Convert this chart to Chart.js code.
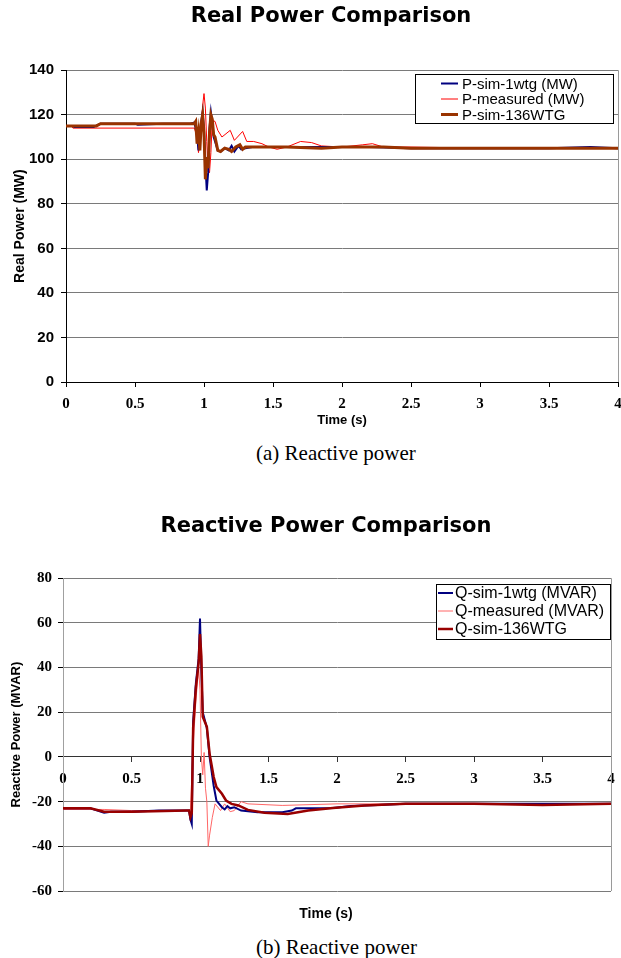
<!DOCTYPE html>
<html>
<head>
<meta charset="utf-8">
<script src="https://cdn.jsdelivr.net/npm/chart.js@4.4.1/dist/chart.umd.min.js"></script>
<style>
html, body { margin:0; padding:0; background:#fff; overflow:hidden; }
#page { position:relative; width:621px; height:958px; overflow:hidden; }
.holder { position:absolute; left:0; }
.caption { position:absolute; left:256px; font-family:"Liberation Serif", "Times New Roman", serif; font-size:21px; line-height:24px; color:#000; white-space:nowrap; }
</style>
</head>
<body>
<div id="page">
  <div class="holder" style="top:0;width:658px;height:432px;"><canvas id="realChart"></canvas></div>
  <div class="caption" style="top:441px;">(a) Reactive power</div>
  <div class="holder" style="top:490px;width:650px;height:440px;"><canvas id="reactChart"></canvas></div>
  <div class="caption" style="top:935px;">(b) Reactive power</div>
</div>
<script>
// ---- Real power (MW) ----
var pSim1Time = [0, 0.05, 0.06, 0.2, 0.25, 0.5, 0.52, 0.7, 0.9, 0.93, 0.95, 0.96, 0.97, 0.98, 0.99, 1.0, 1.01, 1.02, 1.03, 1.04, 1.05, 1.06, 1.07, 1.08, 1.1, 1.12, 1.15, 1.18, 1.2, 1.22, 1.25, 1.27, 1.3, 1.35, 1.5, 1.8, 2.0, 2.2, 2.5, 3, 3.5, 3.8, 4];
var pSim1Vals = [115, 115, 114.5, 114.5, 116, 116, 115.5, 116, 116, 116.5, 111, 104, 110, 117, 121, 113, 98, 86, 94, 114, 121, 116, 110, 108, 104, 103.5, 105, 104, 106, 103.5, 106, 104.5, 105, 105.5, 105.5, 105.5, 105.5, 105.5, 105, 105, 105, 105.5, 105];

var pMeasTime = [0, 0.04, 0.05, 0.5, 0.93, 0.95, 0.96, 0.97, 0.98, 0.99, 1.0, 1.01, 1.02, 1.03, 1.04, 1.05, 1.06, 1.08, 1.1, 1.13, 1.19, 1.22, 1.28, 1.31, 1.36, 1.42, 1.47, 1.53, 1.6, 1.7, 1.78, 1.85, 2.0, 2.15, 2.22, 2.3, 2.5, 3, 4];
var pMeasVals = [115, 115, 114, 114, 114, 110, 103, 108, 115, 124, 129.5, 123, 108, 95, 94, 103, 117.5, 117, 113, 110, 113, 108.5, 112.5, 108, 108, 107, 105.5, 104.5, 105.5, 108, 107.5, 106, 105.5, 106.5, 107, 105.5, 105.5, 105, 105];

var pSim136Time = [0, 0.22, 0.25, 0.5, 0.9, 0.93, 0.94, 0.95, 0.96, 0.97, 0.98, 0.99, 1.0, 1.01, 1.02, 1.03, 1.04, 1.05, 1.06, 1.07, 1.08, 1.1, 1.12, 1.15, 1.18, 1.2, 1.23, 1.26, 1.28, 1.3, 1.4, 1.6, 1.85, 2.0, 2.3, 2.5, 3, 3.5, 4];
var pSim136Vals = [115, 115, 116, 116, 116, 116, 117, 107, 112, 104, 116, 120, 112, 91, 101, 96, 112, 120, 118, 111, 110, 104, 103.5, 105, 104.5, 103.5, 105.5, 106.5, 104.5, 105.5, 105.5, 105.5, 105, 105.5, 105.5, 105, 105, 105, 105];

// ---- Reactive power (MVAR) ----
var qSim1Time = [0, 0.2, 0.3, 0.35, 0.5, 0.7, 0.9, 0.92, 0.93, 0.94, 0.95, 0.97, 0.99, 1.0, 1.01, 1.02, 1.05, 1.07, 1.1, 1.12, 1.16, 1.18, 1.2, 1.22, 1.25, 1.3, 1.42, 1.6, 1.67, 1.7, 1.85, 1.97, 2.1, 2.3, 2.5, 3, 3.5, 4];
var qSim1Vals = [-23, -23, -25, -24.5, -24.5, -24, -24, -24, -28, -30, 16, 33, 44, 62, 39, 20, 13, 0, -13, -19.5, -22.5, -23.5, -22, -23, -22.5, -24, -24.7, -24.7, -24, -23, -23, -22.8, -22, -21.5, -21, -21, -21, -21];

var qMeasTime = [0, 0.2, 0.3, 0.5, 0.9, 0.93, 0.95, 0.97, 0.99, 1.0, 1.01, 1.02, 1.03, 1.04, 1.05, 1.06, 1.07, 1.09, 1.11, 1.15, 1.18, 1.22, 1.25, 1.3, 1.35, 1.6, 2.0, 2.5, 3, 4];
var qMeasVals = [-23.5, -23.5, -23.5, -24, -24, -24, 5, 25, 40, 30, 0, -8, 2, -14, -20, -40, -35, -27, -21, -24, -21, -24.5, -24, -20, -21, -21.7, -21, -21, -21, -21];

var qSim136Time = [0, 0.2, 0.3, 0.5, 0.9, 0.92, 0.93, 0.94, 0.95, 0.97, 0.99, 1.0, 1.01, 1.02, 1.05, 1.07, 1.1, 1.12, 1.16, 1.19, 1.23, 1.28, 1.35, 1.47, 1.64, 1.79, 1.97, 2.2, 2.5, 3, 3.5, 4];
var qSim136Vals = [-23, -23, -24.5, -24.5, -24, -24, -27, -25, 13, 31, 42, 55, 45, 18, 13.5, 1.5, -9, -13.5, -16.5, -19.5, -21, -21.7, -23.7, -25, -25.5, -24, -22.8, -21.7, -21, -21, -21.5, -21];

var seriesNamesP = ['P-sim-1wtg (MW)', 'P-measured (MW)', 'P-sim-136WTG'];
var seriesNamesQ = ['Q-sim-1wtg (MVAR)', 'Q-measured (MVAR)', 'Q-sim-136WTG'];

var SANS = '"Liberation Sans", Arial, sans-serif';
var SERIF = '"Liberation Serif", "Times New Roman", serif';

Chart.defaults.color = '#000';
Chart.defaults.font.family = SANS;

function pts(t, v){
    return t.map(function(x, i){ return { x: x, y: v[i] }; });
}

function line(label, t, v, color, width, order){
    return { label: label, data: pts(t, v), borderColor: color, backgroundColor: color,
             borderWidth: width, pointRadius: 0, tension: 0, fill: false, order: order };
}

function plainTick(v){ return String(v); }

// empty axis on the right, only to keep the title centred like the original
function spacer(w){
    return { type: 'linear', position: 'right', display: true,
             ticks: { display: false }, grid: { display: false }, border: { display: false },
             afterFit: function(s){ s.width = w; } };
}

// legend in a black box + grey right frame line of the plot
function boxLegend(cfg){
    return {
        id: 'boxLegend',
        afterDraw: function(chart){
            var ctx = chart.ctx, a = chart.chartArea;
            ctx.save();
            ctx.strokeStyle = '#9a9a9a';
            ctx.lineWidth = 1;
            ctx.beginPath();
            ctx.moveTo(Math.round(a.right) + 0.5, a.top);
            ctx.lineTo(Math.round(a.right) + 0.5, a.bottom);
            ctx.stroke();

            ctx.fillStyle = '#fff';
            ctx.fillRect(cfg.x, cfg.y, cfg.w, cfg.h);
            ctx.strokeStyle = '#000';
            ctx.strokeRect(cfg.x + 0.5, cfg.y + 0.5, cfg.w, cfg.h);
            ctx.font = cfg.font;
            ctx.textBaseline = 'middle';
            chart.data.datasets.forEach(function(ds, i){
                var yy = cfg.y + cfg.first + i * cfg.row;
                ctx.strokeStyle = ds.borderColor;
                ctx.lineWidth = ds.borderWidth;
                ctx.beginPath();
                ctx.moveTo(cfg.x + cfg.lx1, yy);
                ctx.lineTo(cfg.x + cfg.lx2, yy);
                ctx.stroke();
                ctx.fillStyle = '#000';
                ctx.fillText(ds.label, cfg.x + cfg.tx, yy + 1);
            });
            ctx.restore();
        }
    };
}

// Real power chart
new Chart(document.getElementById('realChart'), {
    type: 'line',
    data: { datasets: [
        line(seriesNamesP[0], pSim1Time, pSim1Vals, '#000080', 2, 1),
        line(seriesNamesP[1], pMeasTime, pMeasVals, '#ff0000', 1, 2),
        line(seriesNamesP[2], pSim136Time, pSim136Vals, '#993300', 3, 0)
    ] },
    options: {
        responsive: true, maintainAspectRatio: false, animation: false,
        layout: { padding: { left: 4, right: 0, top: 0, bottom: 0 } },
        plugins: {
            legend: { display: false },
            tooltip: { enabled: false },
            title: { display: true, text: 'Real Power Comparison',
                     font: { family: '"DejaVu Sans", sans-serif', size: 21, weight: 'bold' },
                     padding: { top: 4, bottom: 41 } }
        },
        scales: {
            x: {
                type: 'linear', min: 0, max: 4,
                ticks: { stepSize: 0.5, padding: 8, callback: plainTick, font: { family: SERIF, size: 15, weight: 'bold' } },
                grid: { drawOnChartArea: false, tickLength: 5, color: '#000' },
                border: { color: '#000' },
                title: { display: true, text: 'Time (s)', font: { size: 13, weight: 'bold' }, padding: { top: 0, bottom: 4 } },
                afterFit: function(s){ s.height = 50; }
            },
            y: {
                min: 0, max: 140,
                ticks: { stepSize: 20, padding: 7, font: { size: 15, weight: 'bold' } },
                grid: { color: '#7a7a7a', tickLength: 5, tickColor: '#000' },
                border: { color: '#000' },
                title: { display: true, text: 'Real Power (MW)', font: { size: 14, weight: 'bold' }, padding: { top: 7.5, bottom: 0 } },
                afterFit: function(s){ s.width = 62; }
            },
            yPad: spacer(40)
        }
    },
    plugins: [ boxLegend({ x: 415, y: 74, w: 198, h: 49, first: 9.5, row: 15.5, lx1: 26, lx2: 43, tx: 47, font: '15px ' + SANS }) ]
});

// Reactive power chart, time axis sits on the zero line
new Chart(document.getElementById('reactChart'), {
    type: 'line',
    data: { datasets: [
        line(seriesNamesQ[0], qSim1Time, qSim1Vals, '#000080', 2, 1),
        line(seriesNamesQ[1], qMeasTime, qMeasVals, '#ff6666', 1, 2),
        line(seriesNamesQ[2], qSim136Time, qSim136Vals, '#990000', 2.5, 0)
    ] },
    options: {
        responsive: true, maintainAspectRatio: false, animation: false,
        layout: { padding: { left: 2, right: 0, top: 0, bottom: 0 } },
        plugins: {
            legend: { display: false },
            tooltip: { enabled: false },
            title: { display: true, text: 'Reactive Power Comparison',
                     font: { family: '"DejaVu Sans", sans-serif', size: 21, weight: 'bold' },
                     padding: { top: 24, bottom: 39 } },
            subtitle: { display: true, position: 'bottom', text: 'Time (s)',
                        font: { size: 14, weight: 'bold' }, padding: { top: 14.6, bottom: 7.6 } }
        },
        scales: {
            x: {
                type: 'linear', min: 0, max: 4, position: { y: 0 },
                ticks: { stepSize: 0.5, padding: 8, callback: plainTick, font: { family: SERIF, size: 15, weight: 'bold' } },
                grid: { drawOnChartArea: false, tickLength: 5, color: '#333' },
                border: { color: '#333' }
            },
            y: {
                min: -60, max: 80,
                ticks: { stepSize: 20, padding: 6, font: { family: SERIF, size: 15, weight: 'bold' } },
                grid: { color: '#7a7a7a', tickLength: 5, tickColor: '#000' },
                border: { color: '#a0a0a0' },
                title: { display: true, text: 'Reactive Power (MVAR)', font: { size: 13, weight: 'bold' }, padding: { top: 6.5, bottom: 0 } },
                afterFit: function(s){ s.width = 61; }
            },
            yPad: spacer(39)
        }
    },
    plugins: [ boxLegend({ x: 436, y: 94, w: 174, h: 55, first: 9, row: 18, lx1: 2, lx2: 17, tx: 19, font: '16px ' + SANS }) ]
});
</script>
</body>
</html>
